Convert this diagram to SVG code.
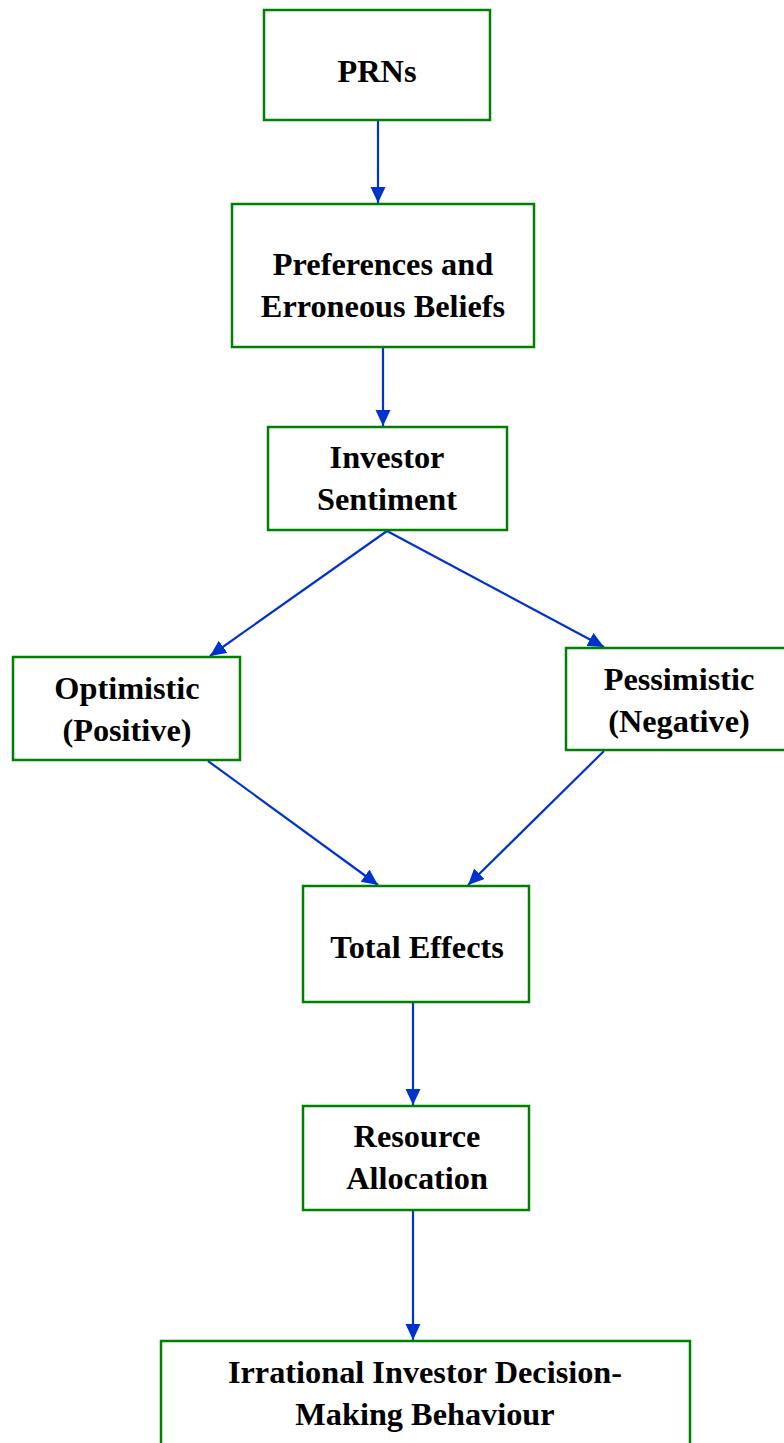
<svg xmlns="http://www.w3.org/2000/svg" width="784" height="1443" viewBox="0 0 784 1443">
<style>
.box{fill:#fff;stroke:#008000;stroke-width:2.5}
.t{font-family:"Liberation Serif","Times New Roman",serif;font-weight:bold;font-size:32.3px;fill:#000;text-anchor:middle}
.c{stroke:#0033cc;stroke-width:2.2;fill:none;marker-end:url(#ah)}
</style>
<defs>
<marker id="ah" markerUnits="userSpaceOnUse" markerWidth="18" markerHeight="16" refX="16" refY="7.5" orient="auto">
<path d="M0,0 L16,7.5 L0,15 z" fill="#0033cc"/>
</marker>
</defs>
<rect width="784" height="1443" fill="#fff"/>
<g id="connectors">
<line class="c" x1="378" y1="121" x2="378" y2="203"/>
<line class="c" x1="383" y1="348" x2="383" y2="426"/>
<line class="c" x1="387" y1="531" x2="210" y2="656"/>
<line class="c" x1="387" y1="531" x2="604" y2="647"/>
<line class="c" x1="208" y1="761" x2="378" y2="885"/>
<line class="c" x1="604" y1="751" x2="468" y2="885"/>
<line class="c" x1="413" y1="1003" x2="413" y2="1105"/>
<line class="c" x1="413" y1="1211" x2="413" y2="1340"/>
</g>
<g id="n-prns"><rect class="box" x="264" y="10" width="226" height="110"/><text class="t" x="377" y="82">PRNs</text></g>
<g id="n-pref"><rect class="box" x="232" y="204" width="302" height="143"/><text class="t" x="383" y="275">Preferences and</text><text class="t" x="383" y="317">Erroneous Beliefs</text></g>
<g id="n-sent"><rect class="box" x="268" y="427" width="239" height="103"/><text class="t" x="387" y="468">Investor</text><text class="t" x="387" y="510">Sentiment</text></g>
<g id="n-opt"><rect class="box" x="13" y="657" width="227" height="103"/><text class="t" x="127" y="699">Optimistic</text><text class="t" x="127" y="741">(Positive)</text></g>
<g id="n-pess"><rect class="box" x="566" y="648" width="230" height="102"/><text class="t" x="679" y="690">Pessimistic</text><text class="t" x="679" y="732">(Negative)</text></g>
<g id="n-total"><rect class="box" x="303" y="886" width="226" height="116"/><text class="t" x="417" y="958">Total Effects</text></g>
<g id="n-res"><rect class="box" x="303" y="1106" width="226" height="104"/><text class="t" x="417" y="1147">Resource</text><text class="t" x="417" y="1189">Allocation</text></g>
<g id="n-irr"><rect class="box" x="161" y="1341" width="529" height="120"/><text class="t" x="425" y="1383">Irrational Investor Decision-</text><text class="t" x="425" y="1425">Making Behaviour</text></g>
</svg>
